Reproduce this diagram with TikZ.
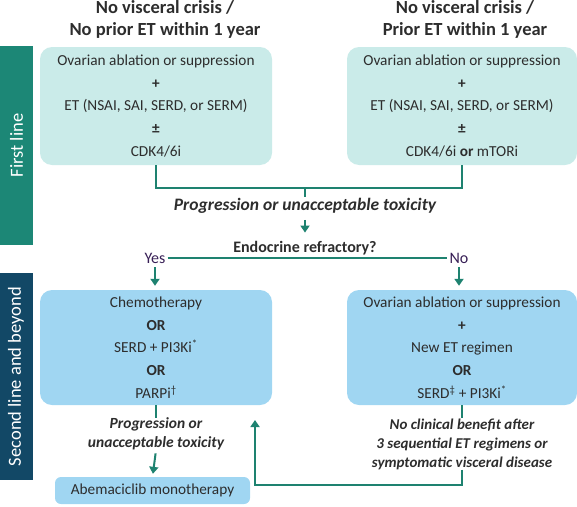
\documentclass[tikz,border=0pt]{standalone}
\usepackage{fontspec}
\setmainfont{Carlito}
\usetikzlibrary{arrows.meta,positioning}
\definecolor{pine}{RGB}{28,135,118}
\definecolor{navy}{RGB}{18,72,102}
\definecolor{mint}{RGB}{202,235,233}
\definecolor{sky}{RGB}{160,214,242}
\definecolor{wire}{RGB}{30,130,112}
\definecolor{ink}{RGB}{45,45,45}
\definecolor{plum}{RGB}{55,30,85}
\tikzset{
  >={Triangle[length=7pt,width=9pt]},
  box/.style={fill=#1,rounded corners=12pt,minimum width=232pt,minimum height=116pt,
    align=center,text=ink,inner sep=0pt,font=\fontsize{15.3}{22.75}\selectfont},
  box/.default=mint,
  side/.style={fill=#1,text=white,rotate=90,minimum height=33pt,inner sep=0pt,
    font=\fontsize{18.5}{19}\selectfont},
  side/.default=pine,
  head/.style={text=ink,align=center,font=\fontsize{18.5}{22}\selectfont\bfseries},
  tag/.style={text=ink,align=center,inner sep=1pt,font=\fontsize{15.5}{19}\selectfont\bfseries\itshape},
  answer/.style={text=plum,inner sep=2pt,font=\fontsize{16}{16}\selectfont},
  flow/.style={draw=wire,line width=2pt},
}

\begin{document}
\begin{tikzpicture}[x=1pt,y=-1pt]
  \useasboundingbox (0,0) rectangle (577,506);
  % side bars
  \node[side=pine,minimum width=199pt] (first) at (16.5,145.5) {First line};
  \node[side=navy,minimum width=207pt] (second) at (16,376.5) {Second line and beyond};
  % first line
  \node[head] (hl) at (165,19) {No visceral crisis /\\No prior ET within 1 year};
  \node[head] (hr) at (465,19) {No visceral crisis /\\Prior ET within 1 year};
  \node[box=mint,minimum height=118pt] (tl) at (156,106)
    {Ovarian ablation or suppression\\\textbf{+}\\ET (NSAI, SAI, SERD, or SERM)\\\textbf{±}\\CDK4/6i};
  \node[box=mint,minimum height=118pt,minimum width=230pt] (tr) at (462,106)
    {Ovarian ablation or suppression\\\textbf{+}\\ET (NSAI, SAI, SERD, or SERM)\\\textbf{±}\\CDK4/6i \textbf{or} mTORi};
  \coordinate (join) at (305,188);
  \node[tag,font=\fontsize{17.5}{19}\selectfont\bfseries\itshape] (prog) at (305,206) {Progression or unacceptable toxicity};
  \node[text=ink,font=\fontsize{16}{16}\selectfont\bfseries] (endo) at (305,248) {Endocrine\ refractory?};
  \node[answer] (yes) at (155,258) {Yes};
  \node[answer] (no) at (459,258) {No};
  % second line
  \node[box=sky,minimum height=115pt] (bl) at (156,347.5)
    {Chemotherapy\\\textbf{OR}\\SERD + PI3Ki\textsuperscript{*}\\\textbf{OR}\\PARPi\textsuperscript{\textdagger}};
  \node[box=sky,minimum height=115pt,minimum width=230pt] (br) at (462,347.5)
    {Ovarian ablation or suppression\\\textbf{+}\\New ET regimen\\\textbf{OR}\\SERD\textsuperscript{\textdaggerdbl} + PI3Ki\textsuperscript{*}};
  \node[tag,inner sep=0pt] (prog2) at (156,434) {Progression or\\unacceptable toxicity};
  \node[box=sky,rounded corners=6pt,minimum width=195pt,minimum height=27pt] (abem) at (152.5,490.5)
    {Abemaciclib monotherapy};
  \node[tag,inner sep=0pt,font=\fontsize{15}{19}\selectfont\bfseries\itshape] (noben) at (462,444)
    {No clinical benefit after\\3 sequential ET regimens or\\symptomatic visceral disease};
  \coordinate (turn) at (462,485);
  \coordinate (back) at (255,420);
  % connectors
  \draw[flow] (tl.south) |- (join) -| (tr.south);
  \draw[flow] (join) -- (prog.north);
  \draw[flow,->,shorten <=5pt,shorten >=5pt] (prog.south) -- (endo.north);
  \draw[flow] (yes) -- (no);
  \draw[flow,->,shorten <=2pt,shorten >=4pt] (yes.south) -- (yes.south |- bl.north);
  \draw[flow,->,shorten <=2pt,shorten >=4pt] (no.south) -- (no.south |- br.north);
  \draw[flow] (bl.south) -- (prog2.north);
  \draw[flow,->,shorten <=3pt,shorten >=3pt] (prog2.south) -- (abem.north);
  \draw[flow] (br.south) -- (noben.north);
  \draw[flow,->] (noben.south) -- (turn) -| (back);
\end{tikzpicture}
\end{document}
